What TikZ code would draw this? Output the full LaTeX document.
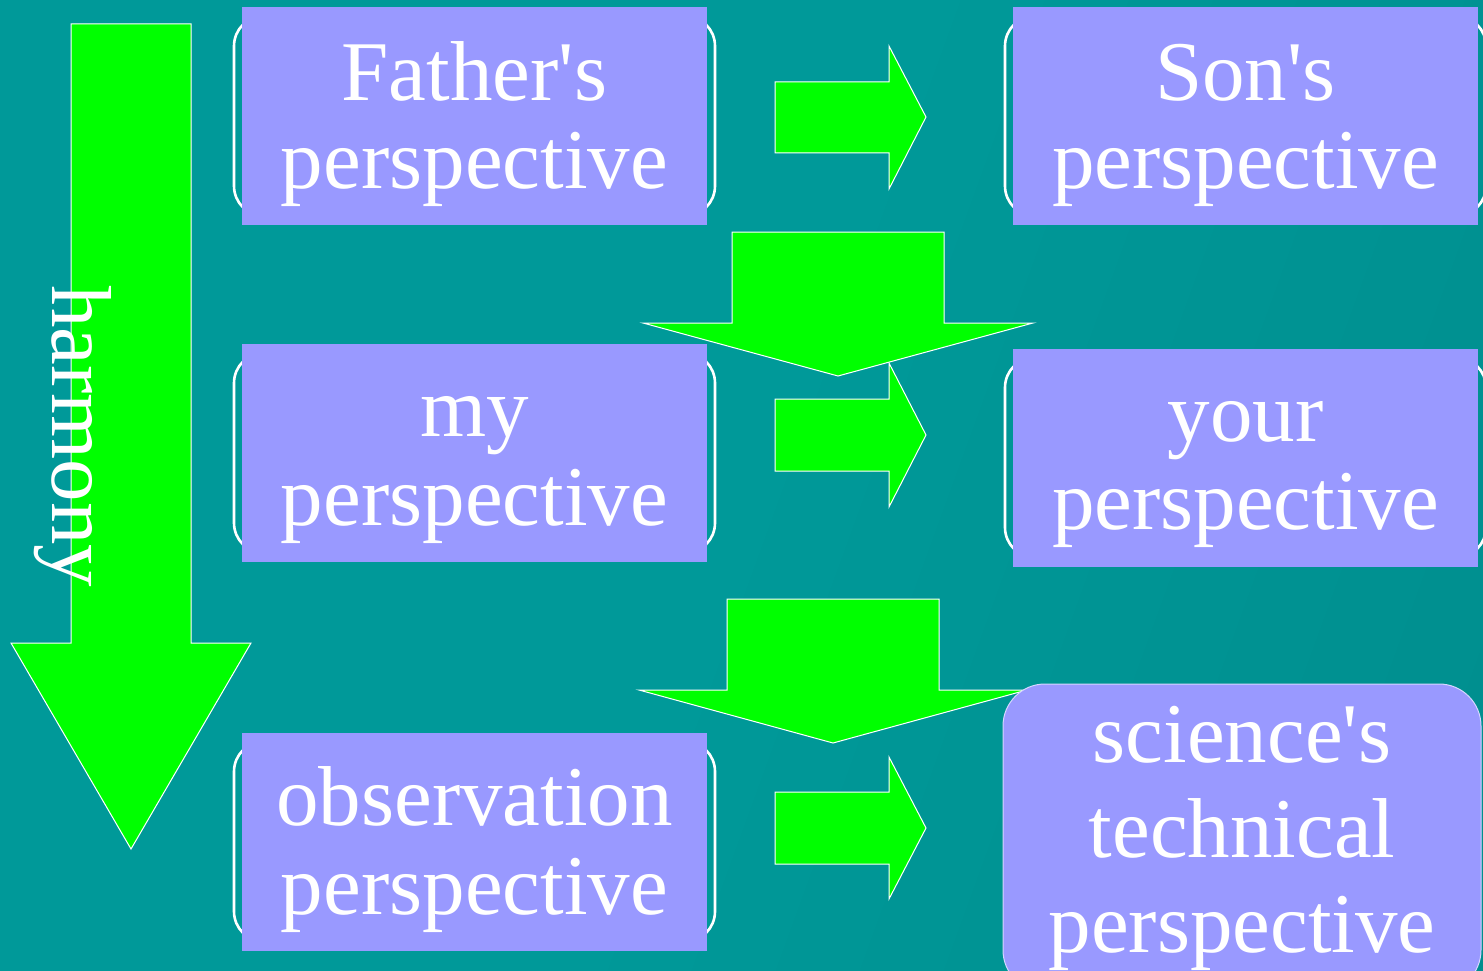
\documentclass[tikz,border=0pt]{standalone}
\usepackage{fontspec}
\setmainfont{Liberation Serif}
\definecolor{bgA}{HTML}{009999}
\definecolor{bgB}{HTML}{008888}
\definecolor{lav}{HTML}{9999FF}
\definecolor{grn}{HTML}{00FF00}
\definecolor{edgelav}{HTML}{D6D6FF}
\pgfdeclarehorizontalshading{bgshade}{100bp}{color(0bp)=(bgA); color(50bp)=(bgA); color(100bp)=(bgB)}
\newcommand{\ap}{\textquotesingle}
\tikzset{
  lavbox/.style={rectangle, fill=lav, inner sep=0pt, minimum width=465pt, minimum height=218pt},
  ringbox/.style={rectangle, rounded corners=30pt, draw=white, line width=2.6pt, inner sep=0pt, minimum width=481pt, minimum height=200pt},
  boxtext/.style={text=white, font=\fontsize{85}{88.5}\selectfont, align=center, inner sep=0pt},
  blockarrow/.style={fill=grn, draw=white, line width=1pt, line join=miter},
  scibox/.style={rectangle, rounded corners=42pt, fill=lav, draw=edgelav, line width=1pt, inner sep=0pt,
    minimum width=478pt, minimum height=308pt, text=white, font=\fontsize{85}{95}\selectfont, align=center},
}
\begin{document}
\begin{tikzpicture}[x=1pt,y=-1pt]
\useasboundingbox (0,0) rectangle (1483,971);
\shade[shading=bgshade, shading angle=-20] (0,0) rectangle (1483,971);

% outline rings behind the boxes
\node[ringbox] (r1) at (474.5,116) {};
\node[ringbox] (r2) at (474.5,453) {};
\node[ringbox] (r3) at (474.5,841.5) {};
\node[ringbox] (r4) at (1245.5,116) {};
\node[ringbox] (r5) at (1245.5,457.5) {};

% boxes
\node[lavbox] (fa) at (474.5,116) {};
\node[lavbox] (my) at (474.5,453) {};
\node[lavbox] (ob) at (474.5,841.5) {};
\node[lavbox] (so) at (1245.5,116) {};
\node[lavbox] (yo) at (1245.5,457.5) {};

\node[boxtext] (faT) at ([yshift=-11pt]fa.center) {\strut Father\ap s\\\strut perspective};
\node[boxtext] (myT) at ([yshift=-10.5pt]my.center) {\strut my\\\strut perspective};
\node[boxtext] (obT) at ([yshift=-11pt]ob.center) {\strut observation\\\strut perspective};
\node[boxtext] (soT) at ([yshift=-11pt]so.center) {\strut Son\ap s\\\strut perspective};
\node[boxtext] (yoT) at ([yshift=-10.5pt]yo.center) {\strut your\\\strut perspective};

% right arrows
\draw[blockarrow] (775,82) -- (889,82) -- (889,46) -- (926,117) -- (889,189) -- (889,153) -- (775,153) -- cycle;
\draw[blockarrow] (775,399) -- (889,399) -- (889,363) -- (926,435) -- (889,507) -- (889,471) -- (775,471) -- cycle;
\draw[blockarrow] (775,792) -- (889,792) -- (889,757) -- (926,828) -- (889,899) -- (889,864) -- (775,864) -- cycle;

% down arrows
\draw[blockarrow] (732,232) -- (944,232) -- (944,323) -- (1033,323) -- (838,376) -- (643,323) -- (732,323) -- cycle;
\draw[blockarrow] (727,599) -- (939,599) -- (939,690) -- (1027,690) -- (833,743) -- (639,690) -- (727,690) -- cycle;

% harmony arrow
\draw[blockarrow] (71,24) -- (191,24) -- (191,643) -- (251,643) -- (131,849) -- (11,643) -- (71,643) -- cycle;
\node[text=white, font=\fontsize{85}{88.5}\selectfont, rotate=-90, anchor=base west, inner sep=0pt] (harm) at (52,285) {harmony};

% science box
\node[scibox] (sc) at (1242,838) {\strut science\ap s\\\strut technical\\\strut perspective};
\end{tikzpicture}
\end{document}
